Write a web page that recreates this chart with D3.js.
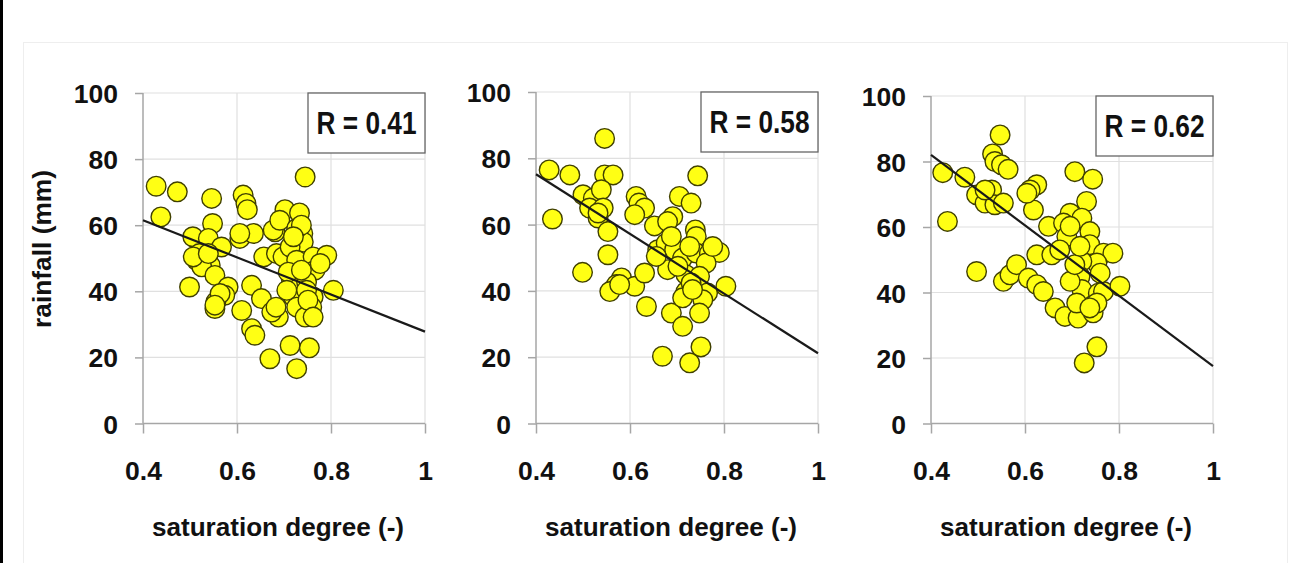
<!DOCTYPE html>
<html>
<head>
<meta charset="utf-8">
<script src="https://cdn.jsdelivr.net/npm/d3@7.9.0/dist/d3.min.js"></script>
<style>
  body { margin: 0; background: #fff; }
  svg { display: block; font-family: "Liberation Sans", Arial, sans-serif; }
  .tick text { font-weight: bold; font-size: 26.5px; fill: #111; }
</style>
</head>
<body>
<svg id="chart" width="1291" height="563"></svg>
<script>
// --- data: [saturation degree, rainfall mm]
const panel1 = [
  [0.428,71.8],[0.473,70.1],[0.438,62.5],[0.546,68.1],[0.548,60.5],[0.506,56.5],[0.539,56],
  [0.567,53.4],[0.52,51.4],[0.514,49.4],[0.532,49.4],[0.543,47.9],[0.525,47.4],[0.553,44.8],
  [0.499,41.3],[0.581,41.3],[0.574,38.8],[0.555,36.8],[0.553,34.8],[0.613,69.1],[0.619,66.6],
  [0.622,64.7],[0.606,56],[0.635,57.5],[0.631,41.8],[0.652,37.8],[0.61,34.2],[0.631,28.7],
  [0.638,26.7],[0.67,19.6],[0.657,50.4],[0.681,58],[0.702,64.7],[0.733,63.7],[0.745,74.6],
  [0.74,57.5],[0.741,54.9],[0.684,51.4],[0.698,50.4],[0.713,53.4],[0.727,49.4],[0.762,50.4],
  [0.791,50.9],[0.766,46.4],[0.716,43.3],[0.748,42.8],[0.805,40.3],[0.72,38.3],[0.762,38.3],
  [0.727,35.2],[0.759,35.2],[0.745,32.2],[0.688,32.2],[0.674,33.7],[0.713,23.6],[0.754,22.9],
  [0.727,16.6],[0.677,58.5],[0.691,61.5],[0.727,59],[0.737,60],[0.709,45.8],[0.737,46.4],
  [0.706,40.3],[0.777,48.4],[0.748,40.3],[0.507,50.4],[0.539,51.4],[0.564,39.3],[0.553,35.8],
  [0.606,57.5],[0.72,56.5],[0.751,37.3],[0.762,32.2],[0.683,35.2]
];
const panel2 = [
  [0.428,76.5],[0.472,75],[0.546,86],[0.546,75],[0.564,75],[0.435,61.7],[0.5,69],[0.522,68],
  [0.539,70.5],[0.514,65],[0.543,65],[0.532,62],[0.553,57.9],[0.553,50.9],[0.499,45.6],
  [0.582,43.9],[0.571,41.9],[0.557,39.8],[0.61,41.4],[0.631,45.4],[0.635,35.3],[0.613,68.5],
  [0.619,66.5],[0.631,65],[0.61,63],[0.652,59.6],[0.659,52.4],[0.68,46.4],[0.688,33.3],
  [0.712,29.3],[0.669,20.3],[0.727,18.3],[0.751,23.1],[0.744,74.7],[0.705,68.5],[0.73,66.5],
  [0.691,62.4],[0.68,60.9],[0.739,58.4],[0.741,56.4],[0.677,54.4],[0.695,52.4],[0.656,50.4],
  [0.712,49.9],[0.741,51.4],[0.769,51.4],[0.79,51.6],[0.762,48.4],[0.719,44.9],[0.748,44.4],
  [0.804,41.4],[0.765,39.4],[0.719,39.8],[0.712,37.9],[0.755,37.3],[0.748,33.3],[0.73,42.4],
  [0.776,53.4],[0.688,56.4],[0.702,47.4],[0.532,63.5],[0.578,41.9],[0.727,53.4],[0.733,40.4]
];
const panel3 = [
  [0.425,76.6],[0.472,75.2],[0.435,61.7],[0.547,88.1],[0.531,82.3],[0.536,80],[0.55,79],
  [0.564,77.6],[0.497,69.8],[0.529,71.3],[0.515,67.3],[0.536,66.8],[0.554,67.3],[0.497,46.4],
  [0.554,43.4],[0.568,45.4],[0.582,48.5],[0.607,44.4],[0.625,42.4],[0.639,40.3],[0.664,35.3],
  [0.685,32.7],[0.713,32.2],[0.745,33.8],[0.625,72.9],[0.611,71.3],[0.618,65.2],[0.65,60.2],
  [0.625,51.5],[0.657,51.5],[0.706,76.9],[0.744,74.6],[0.731,67.8],[0.696,64.2],[0.682,61.2],
  [0.721,62.7],[0.738,58.6],[0.738,54.6],[0.689,57.1],[0.674,53],[0.767,52],[0.787,52],
  [0.753,49],[0.721,49.5],[0.717,44.9],[0.721,40.9],[0.756,39.8],[0.767,40.3],[0.802,41.9],
  [0.753,36.8],[0.71,36.8],[0.753,23.4],[0.726,18.5],[0.696,43.4],[0.706,48.5],[0.76,45.9],
  [0.604,70.3],[0.696,60.2],[0.515,71.3],[0.717,54.1],[0.738,35.3]
];
// regression line: rainfall at saturation 0.4 and at 1.0
const fitLines = [[61.5, 27.8], [75.2, 21.2], [82, 17.5]];
const rLabels = ["R = 0.41", "R = 0.58", "R = 0.62"];
const xTicks = [0.4, 0.6, 0.8, 1];
const yTicks = [0, 20, 40, 60, 80, 100];
const xTitle = "saturation degree (-)";
const yTitle = "rainfall (mm)";

// --- layout
const panelLeft = [143, 536, 931];
const panelTop = [93, 92, 96];
const panelBottom = 423.5;
const panelWidth = 282;
const allPanels = [panel1, panel2, panel3];

const svg = d3.select('#chart');

// left black edge and faint outer frame
svg.append('rect').attr('x', 0).attr('y', 0).attr('width', 3).attr('height', 563).attr('fill', '#000');
svg.append('rect').attr('x', 23.5).attr('y', 42.5).attr('width', 1264).attr('height', 540)
  .attr('fill', 'none').attr('stroke', '#eeeeee');

allPanels.forEach((pts, i) => {
  const left = panelLeft[i], top = panelTop[i];
  const x = d3.scaleLinear().domain([0.4, 1]).range([left, left + panelWidth]);
  const y = d3.scaleLinear().domain([0, 100]).range([panelBottom, top]);
  const g = svg.append('g');

  // gridlines
  g.selectAll('.hgrid').data(yTicks.filter(d => d > 0)).join('line')
    .attr('x1', left).attr('x2', left + panelWidth)
    .attr('y1', d => y(d)).attr('y2', d => y(d))
    .attr('stroke', '#e0e0e0').attr('stroke-width', 1.2);
  g.selectAll('.vgrid').data(xTicks.filter(d => d > 0.4)).join('line')
    .attr('x1', d => x(d)).attr('x2', d => x(d))
    .attr('y1', top).attr('y2', panelBottom)
    .attr('stroke', '#e0e0e0').attr('stroke-width', 1.2);

  // axes
  const yAxis = g.append('g').attr('transform', `translate(${left},0)`)
    .call(d3.axisLeft(y).tickValues(yTicks).tickSize(8).tickPadding(17).tickFormat(d3.format('d')));
  const xAxis = g.append('g').attr('transform', `translate(0,${panelBottom})`)
    .call(d3.axisBottom(x).tickValues(xTicks).tickSize(10).tickPadding(28).tickFormat(d => d === 1 ? '1' : d3.format('.1f')(d)));
  [yAxis, xAxis].forEach(a => {
    a.select('.domain').attr('stroke', '#a6a6a6').attr('stroke-width', 1.5);
    a.selectAll('.tick line').attr('stroke', '#a6a6a6').attr('stroke-width', 1.5);
  });
  yAxis.selectAll('.tick text').attr('dy', '0.36em');
  yAxis.select('.domain').attr('d', `M0,${panelBottom}V${top}`);
  xAxis.select('.domain').attr('d', `M${left},0H${left + panelWidth}`);

  // points
  g.selectAll('circle').data(pts).join('circle')
    .attr('cx', d => x(d[0])).attr('cy', d => y(d[1])).attr('r', 9.8)
    .attr('fill', '#ffff14').attr('stroke', '#404000').attr('stroke-width', 1.4);

  // fit line
  g.append('line')
    .attr('x1', x(0.4)).attr('y1', y(fitLines[i][0]))
    .attr('x2', x(1)).attr('y2', y(fitLines[i][1]))
    .attr('stroke', '#1a1a1a').attr('stroke-width', 2.2);

  // R box
  const bw = 117, bh = 60;
  const bx = x(1) - bw, by = top;
  g.append('rect').attr('x', bx).attr('y', by).attr('width', bw).attr('height', bh)
    .attr('fill', '#fff').attr('stroke', '#666').attr('stroke-width', 1.3);
  g.append('text').attr('x', bx + bw / 2).attr('y', by + 41)
    .attr('text-anchor', 'middle').attr('font-weight', 'bold').attr('font-size', 31)
    .attr('textLength', 100).attr('lengthAdjust', 'spacingAndGlyphs')
    .attr('fill', '#111').text(rLabels[i]);

  // x title
  g.append('text').attr('x', left + panelWidth / 2 - 6).attr('y', 536)
    .attr('text-anchor', 'middle').attr('font-weight', 'bold').attr('font-size', 25)
    .attr('textLength', 252).attr('lengthAdjust', 'spacingAndGlyphs')
    .attr('fill', '#111').text(xTitle);
});

// y title, first panel only
svg.append('text')
  .attr('transform', 'translate(51,249) rotate(-90)')
  .attr('text-anchor', 'middle').attr('font-weight', 'bold').attr('font-size', 26)
  .attr('textLength', 158).attr('lengthAdjust', 'spacingAndGlyphs')
  .attr('fill', '#111').text(yTitle);
</script>
</body>
</html>
